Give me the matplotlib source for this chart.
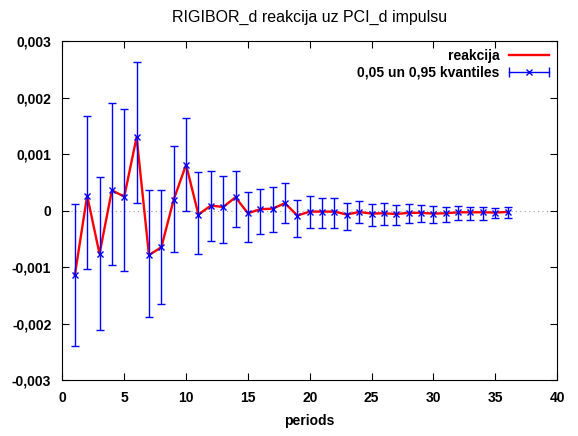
import matplotlib
matplotlib.use("Agg")
import matplotlib.pyplot as plt
from matplotlib.ticker import FuncFormatter, MultipleLocator
from matplotlib.lines import Line2D
from matplotlib.legend_handler import HandlerLine2D, HandlerTuple

plt.rcParams['font.family'] = ['Liberation Sans', 'DejaVu Sans']

periods = list(range(1, 37))
response = [-1.147, 0.265, -0.765, 0.359, 0.247, 1.30, -0.788, -0.647, 0.194, 0.81,
            -0.07, 0.088, 0.065, 0.235, -0.047, 0.024, 0.035, 0.13, -0.088, -0.018,
            -0.018, -0.018, -0.07, -0.024, -0.053, -0.047, -0.06, -0.04, -0.04, -0.053,
            -0.047, -0.03, -0.03, -0.03, -0.035, -0.024]
q_upper = [0.112, 1.67, 0.594, 1.90, 1.80, 2.63, 0.371, 0.371, 1.15, 1.64,
           0.676, 0.70, 0.618, 0.70, 0.32, 0.388, 0.42, 0.49, 0.19, 0.26,
           0.23, 0.23, 0.13, 0.17, 0.12, 0.13, 0.106, 0.11, 0.094, 0.088,
           0.065, 0.082, 0.065, 0.065, 0.047, 0.065]
q_lower = [-2.40, -1.04, -2.11, -0.97, -1.07, 0.129, -1.88, -1.65, -0.729, 0.0,
           -0.776, -0.535, -0.58, -0.294, -0.547, -0.406, -0.376, -0.224, -0.47, -0.306,
           -0.306, -0.306, -0.347, -0.224, -0.276, -0.26, -0.26, -0.22, -0.206, -0.218,
           -0.21, -0.165, -0.16, -0.16, -0.13, -0.13]

scale = 1e-3
y = [v * scale for v in response]
lo = [v * scale for v in q_lower]
hi = [v * scale for v in q_upper]

RED = '#ff0000'
BLUE = '#0000ff'

fig = plt.figure(figsize=(5.78, 4.36), dpi=100)
ax = fig.add_axes([0.108, 0.128, 0.8557, 0.778])

ax.axhline(0, color='#a0a0a0', lw=0.8, ls=(0, (1, 3)), zorder=1)

ax.plot(periods, y, color=RED, lw=1.7, zorder=2)
ax.errorbar(periods, y,
            yerr=[[a - b for a, b in zip(y, lo)], [b - a for a, b in zip(y, hi)]],
            fmt='none', ecolor=BLUE, elinewidth=1.0, capsize=2.7, capthick=1.0, zorder=3)
ax.plot(periods, y, ls='none', marker='x', ms=4.5, mew=1.0, color=BLUE, zorder=4)

# legend handles: red line, and a horizontal error bar with end caps and a cross
h_red = Line2D([], [], color=RED, lw=1.7)
h_caps = Line2D([], [], color=BLUE, lw=1.0, marker='|', ms=7, mew=1.0)
h_cross = Line2D([], [], color=BLUE, lw=0, marker='x', ms=4.5, mew=1.0)
ax.legend([h_red, (h_caps, h_cross)], ['reakcija', '0,05 un 0,95 kvantiles'],
          loc='upper right', frameon=False, markerfirst=False,
          prop={'weight': 'bold', 'size': 10}, handlelength=2.9,
          borderaxespad=0.15, labelspacing=0.2, handletextpad=0.7,
          handler_map={h_caps: HandlerLine2D(numpoints=2, marker_pad=0),
                       h_cross: HandlerLine2D(numpoints=1),
                       tuple: HandlerTuple(ndivide=1)})

ax.set_xlim(0, 40)
ax.set_ylim(-0.003, 0.003)
ax.xaxis.set_major_locator(MultipleLocator(5))
ax.yaxis.set_major_locator(MultipleLocator(0.001))

def comma_fmt(v, pos):
    if abs(v) < 1e-12:
        return '0'
    return ('%.3f' % v).replace('.', ',')

ax.yaxis.set_major_formatter(FuncFormatter(comma_fmt))
ax.xaxis.set_major_formatter(FuncFormatter(lambda v, p: '%d' % v))

ax.tick_params(direction='in', top=True, right=True, length=5, width=0.8,
               labelsize=10, pad=8)
for lab in ax.get_xticklabels() + ax.get_yticklabels():
    lab.set_fontweight('bold')
for s in ax.spines.values():
    s.set_linewidth(0.8)

ax.set_xlabel('periods', fontsize=10, fontweight='bold', labelpad=6)
ax.set_title('RIGIBOR_d reakcija uz PCI_d impulsu', fontsize=11.5, pad=14)

fig.savefig('out.png', dpi=100)
